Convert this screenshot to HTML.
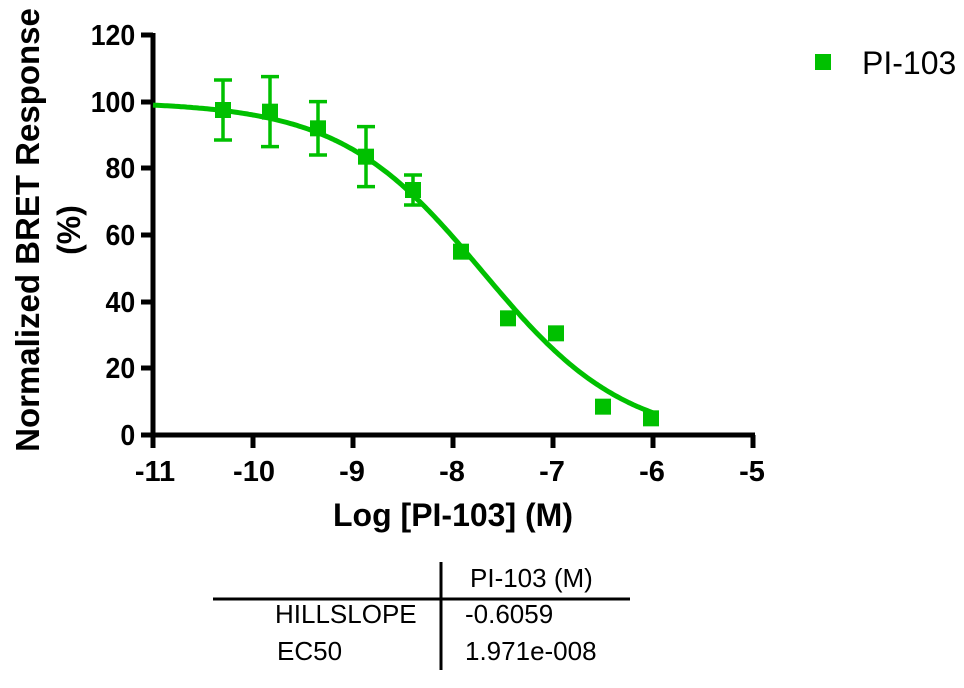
<!DOCTYPE html>
<html><head><style>body{margin:0;background:#fff}svg{display:block}</style></head>
<body>
<svg id="s" width="964" height="688" xmlns="http://www.w3.org/2000/svg" font-family="Liberation Sans, Arial, sans-serif">
<g stroke="#000" stroke-width="5" fill="none">
<line x1="153" y1="33" x2="153" y2="437"/>
<line x1="151" y1="435" x2="755" y2="435"/>
<line x1="141" y1="35" x2="153" y2="35"/>
<line x1="141" y1="102" x2="153" y2="102"/>
<line x1="141" y1="168" x2="153" y2="168"/>
<line x1="141" y1="235" x2="153" y2="235"/>
<line x1="141" y1="302" x2="153" y2="302"/>
<line x1="141" y1="368" x2="153" y2="368"/>
<line x1="141" y1="435" x2="153" y2="435"/>
<line x1="153" y1="435" x2="153" y2="448"/>
<line x1="253" y1="435" x2="253" y2="448"/>
<line x1="353" y1="435" x2="353" y2="448"/>
<line x1="453" y1="435" x2="453" y2="448"/>
<line x1="553" y1="435" x2="553" y2="448"/>
<line x1="653" y1="435" x2="653" y2="448"/>
<line x1="753" y1="435" x2="753" y2="448"/>
</g>
<g font-size="29" font-weight="bold" text-anchor="end" transform="scale(0.92,1)">
<text x="147" y="45">120</text><text x="147" y="112">100</text><text x="147" y="178">80</text>
<text x="147" y="245">60</text><text x="147" y="312">40</text><text x="147" y="378">20</text><text x="147" y="445">0</text>
</g>
<g font-size="29" font-weight="bold" text-anchor="middle">
<text x="155" y="481">-11</text><text x="254" y="481">-10</text><text x="352" y="481">-9</text>
<text x="452" y="481">-8</text><text x="552" y="481">-7</text><text x="652" y="481">-6</text><text x="752" y="481">-5</text>
</g>
<text x="453" y="526" font-size="32" font-weight="bold" text-anchor="middle">Log [PI-103] (M)</text>
<text transform="translate(39,230) rotate(-90)" font-size="33" font-weight="bold" text-anchor="middle">Normalized BRET Response</text>
<text transform="translate(80,230) rotate(-90)" font-size="32" font-weight="bold" text-anchor="middle">(%)</text>
<path id="curve" fill="none" stroke="#00c000" stroke-width="5"/>
<g id="pts" fill="#00c000" stroke="#00c000" stroke-width="3.5"></g>
<rect x="815" y="54" width="16" height="16" fill="#00c000"/>
<text x="862" y="74" font-size="32">PI-103</text>
<g stroke="#000" stroke-width="3">
<line x1="441" y1="562" x2="441" y2="670"/>
<line x1="213" y1="599" x2="630" y2="599"/>
</g>
<g font-size="26">
<text x="470" y="587">PI-103 (M)</text>
<text x="275" y="623">HILLSLOPE</text><text x="465" y="623">-0.6059</text>
<text x="277" y="660">EC50</text><text x="465" y="660">1.971e-008</text>
</g>
</svg>
<script>
var X=function(v){return 153+(v+11)*100},Y=function(v){return 435-v*10/3};
var f=function(x){return -2+102/(1+Math.pow(10,(-7.705-x)*-0.6059))};
var d="";for(var x=-11;x<=-6.0001+0.02;x+=0.02){d+=(d?"L":"M")+X(x).toFixed(1)+","+Y(f(x)).toFixed(1);}
document.getElementById("curve").setAttribute("d",d);
var P=[[-10.3,97.5,9],[-9.83,97,10.5],[-9.35,92,8],[-8.87,83.5,9],[-8.4,73.5,4.5],[-7.92,55,0],[-7.45,35,0],[-6.97,30.5,0],[-6.5,8.5,0],[-6.02,5,0]];
var h="";P.forEach(function(p){var cx=X(p[0]),cy=Y(p[1]);
if(p[2]){var t=Y(p[1]+p[2]),b=Y(p[1]-p[2]);h+='<line x1="'+cx+'" y1="'+t+'" x2="'+cx+'" y2="'+b+'"/><line x1="'+(cx-9)+'" y1="'+t+'" x2="'+(cx+9)+'" y2="'+t+'"/><line x1="'+(cx-9)+'" y1="'+b+'" x2="'+(cx+9)+'" y2="'+b+'"/>';}
h+='<rect x="'+(cx-8)+'" y="'+(cy-8)+'" width="16" height="16" stroke="none"/>';});
document.getElementById("pts").innerHTML=h;
</script>
</body></html>
